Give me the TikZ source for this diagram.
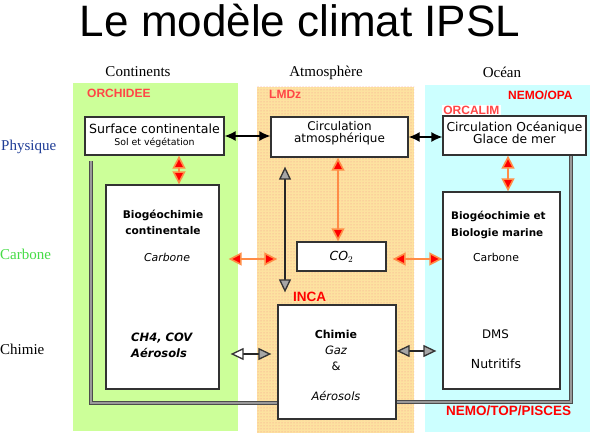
\documentclass[tikz,border=0pt]{standalone}
\usepackage{fontspec}
\setmainfont{Liberation Serif}
\newfontfamily\arialf{Liberation Sans}
\newfontfamily\comicf{DejaVu Sans}
\usetikzlibrary{arrows.meta,patterns}
\definecolor{greenbg}{RGB}{204,255,153}
\definecolor{cyanbg}{RGB}{204,255,255}
\definecolor{yellowbg}{RGB}{253,226,160}
\definecolor{dotpink}{RGB}{245,150,140}
\definecolor{labred}{RGB}{255,70,70}
\definecolor{purered}{RGB}{255,0,0}
\definecolor{arrorange}{RGB}{255,140,70}
\definecolor{physblue}{RGB}{30,60,150}
\definecolor{carbgreen}{RGB}{70,220,70}
\definecolor{boxline}{RGB}{50,50,50}
\tikzset{
  wbox/.style={draw=boxline, line width=1.3pt, fill=white, inner sep=0pt},
  ctext/.style={font=\comicf, inner sep=0pt, align=center},
  hdr/.style={font=\fontsize{15}{18}\selectfont, inner sep=0pt},
  tag/.style={font=\arialf\bfseries\fontsize{12}{14}\selectfont, inner sep=0pt},
  blackarr/.style={line width=1.3pt, black, {Latex[length=11pt,width=10pt]}-{Latex[length=11pt,width=10pt]}},
  orarr/.style={line width=1.6pt, arrorange, {Triangle[length=13pt,width=13pt,fill=red,color=arrorange]}-{Triangle[length=13pt,width=13pt,fill=red,color=arrorange]}},
  grayarr/.style={line width=1.3pt, black!85, {Triangle[length=13pt,width=12pt,fill=black!35,color=black!80]}-{Triangle[length=13pt,width=12pt,fill=black!35,color=black!80]}},
  grayarrb/.style={line width=1.3pt, black!85, {Triangle[length=13pt,width=12pt,fill=white,color=black!80]}-{Triangle[length=13pt,width=12pt,fill=black!35,color=black!80]}},
  frameln/.style={draw=black!70, line width=0.8pt, double=black!40, double distance=1.6pt}
}
\begin{document}
\begin{tikzpicture}[x=1pt,y=-1pt]
\useasboundingbox (0,0) rectangle (590,435);
\fill[white] (0,0) rectangle (590,435);
% panels
\fill[greenbg] (73,83) rectangle (238,431);
\fill[yellowbg] (257,87) rectangle (414,433);
\fill[pattern=dots, pattern color=dotpink] (257,87) rectangle (414,433);
\fill[cyanbg] (425,85) rectangle (590,432);
% title and headers
\node[font=\arialf\fontsize{44}{50}\selectfont, inner sep=0pt, anchor=base] (title) at (300,37) {Le modèle climat IPSL};
\node[hdr] (hcont) at (138,72) {Continents};
\node[hdr] (hatm) at (326,73) {Atmosphère};
\node[hdr] (hoce) at (502,72) {Océan};
\node[hdr, anchor=west, text=physblue] (rphys) at (1,147) {Physique};
\node[hdr, anchor=west, text=carbgreen] (rcarb) at (0,254) {Carbone};
\node[hdr, anchor=west] (rchim) at (0,349) {Chimie};
% coupling frame lines
\draw[frameln] (91,161) coordinate (fl) |- (278,403) coordinate (flend);
\draw[frameln] (571,155) coordinate (fr) |- (396,402) coordinate (frend);
% boxes
\node[wbox, minimum width=139pt, minimum height=38pt] (b1) at (154.5,136) {};
\node[wbox, minimum width=137pt, minimum height=40pt] (b2) at (339.5,137) {};
\node[wbox, minimum width=143pt, minimum height=39pt] (b3) at (514.5,135.5) {};
\node[wbox, minimum width=113pt, minimum height=204pt] (b4) at (162.5,287) {};
\node[wbox, minimum width=89pt, minimum height=29pt] (co2) at (341.5,256.5) {};
\node[wbox, minimum width=118pt, minimum height=114pt] (b6) at (337,362) {};
\node[wbox, minimum width=117pt, minimum height=197pt] (b7) at (501.5,290.5) {};
% model tags
\node[tag, text=labred, anchor=west] (orch) at (87,93) {ORCHIDEE};
\node[tag, text=labred, anchor=west] (lmdz) at (269,94) {LMDz};
\node[tag, text=purered, anchor=west] (nemoopa) at (508,95) {NEMO/OPA};
\node[tag, text=labred, anchor=west, fill=white, inner sep=1.2pt] (orcalim) at (442,110) {ORCALIM};
\node[tag, text=purered, anchor=west, font=\arialf\bfseries\fontsize{13.5}{15}\selectfont] (inca) at (293,297) {INCA};
\node[tag, text=purered, anchor=west, font=\arialf\bfseries\fontsize{13.5}{15}\selectfont] (nemotop) at (446,411) {NEMO/TOP/PISCES};
% box texts
\node[ctext, font=\comicf\fontsize{12.6}{15}\selectfont] (t1a) at (154.5,129) {Surface continentale};
\node[ctext, font=\comicf\fontsize{9.4}{11}\selectfont] (t1b) at (154.5,143) {Sol et végétation};
\node[ctext, font=\comicf\fontsize{12}{13}\selectfont] (t2) at (339.5,133.5) {Circulation\\[-1pt]atmosphérique};
\node[ctext, font=\comicf\fontsize{12.3}{13}\selectfont] (t3) at (514.5,133) {Circulation Océanique\\[-1pt]Glace de mer};
\node[ctext, font=\comicf\bfseries\fontsize{10.6}{16}\selectfont] (t4a) at (163,222) {Biogéochimie\\continentale};
\node[ctext, font=\comicf\itshape\fontsize{10.9}{13}\selectfont] (t4b) at (167,257) {Carbone};
\node[ctext, font=\comicf\bfseries\itshape\fontsize{11.5}{16}\selectfont, align=left, anchor=west] (t4c) at (131,345) {CH4, COV\\Aérosols};
\node[ctext, font=\comicf\itshape\fontsize{12.5}{13}\selectfont] (tco2) at (341.5,256.5) {CO$_2$};
\node[ctext, font=\comicf\bfseries\fontsize{11}{13}\selectfont] (t6a) at (336,334) {Chimie};
\node[ctext, font=\comicf\itshape\fontsize{11.5}{13}\selectfont] (t6b) at (336,350) {Gaz};
\node[ctext, font=\comicf\fontsize{11.5}{13}\selectfont] (t6c) at (336,366) {\&};
\node[ctext, font=\comicf\itshape\fontsize{11.5}{13}\selectfont] (t6d) at (336,396) {Aérosols};
\node[ctext, font=\comicf\bfseries\fontsize{10.4}{17}\selectfont, align=left, anchor=west] (t7a) at (451,224.5) {Biogéochimie et\\Biologie marine};
\node[ctext, font=\comicf\fontsize{10.9}{13}\selectfont] (t7b) at (496,257) {Carbone};
\node[ctext, font=\comicf\fontsize{11.8}{13}\selectfont] (t7c) at (495.5,334) {DMS};
\node[ctext, font=\comicf\fontsize{12.5}{13}\selectfont] (t7d) at (496,364) {Nutritifs};
% connectors
\draw[blackarr] (b1.east) -- (b1.east -| b2.west);
\draw[blackarr] (b2.east) -- (b2.east -| b3.west);
\draw[orarr] ([xshift=24.5pt]b1.south) -- ([xshift=16.5pt]b4.north);
\draw[orarr] ([xshift=-6.5pt]b3.south) -- ([xshift=6.5pt]b7.north);
\draw[orarr] ([xshift=-1.5pt]b2.south) -- ([xshift=-3.5pt]co2.north);
\draw[grayarr] ([xshift=-54.5pt,yshift=-9pt]b2.south) -- ([xshift=-52pt,yshift=12pt]b6.north);
\draw[orarr] ([xshift=9pt,yshift=28pt]b4.east) -- ([xshift=-19pt,yshift=-2.5pt]co2.west);
\draw[orarr] ([xshift=6pt,yshift=-2.5pt]co2.east) -- ([yshift=31.5pt]b7.west);
\draw[grayarrb] ([xshift=11pt,yshift=-67pt]b4.east) -- ([xshift=-6pt,yshift=8pt]b6.west);
\draw[grayarr] ([yshift=11pt]b6.east) -- ([xshift=-6pt,yshift=-60.5pt]b7.west);
\end{tikzpicture}
\end{document}
